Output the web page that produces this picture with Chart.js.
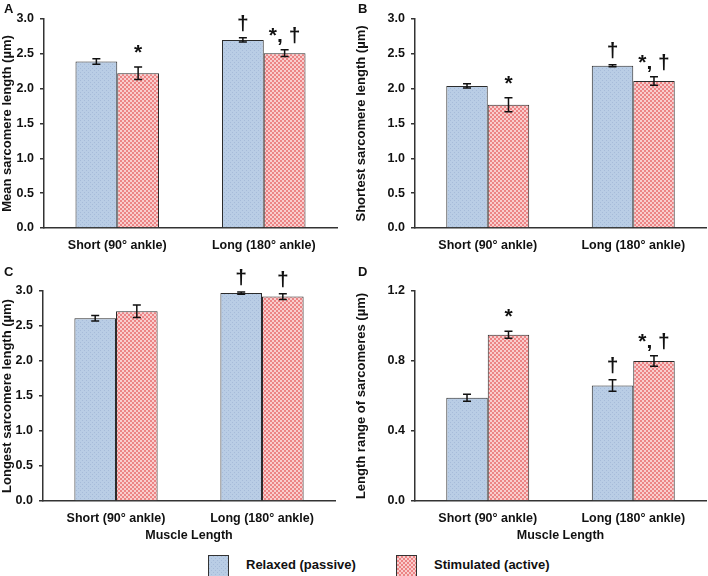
<!DOCTYPE html>
<html>
<head>
<meta charset="utf-8">
<script src="https://cdn.jsdelivr.net/npm/chart.js@4.4.1/dist/chart.umd.min.js"></script>
<style>
  body { margin: 0; background: #fff; }
  #wrap { position: relative; width: 708px; height: 576px; font-family: "Liberation Sans", Arial, sans-serif; }
  .panel { position: absolute; }
  .letter { position: absolute; font-weight: bold; font-size: 13px; color: #111; }
  .leg { position: absolute; font-weight: bold; font-size: 13px; color: #111; line-height: 19px; }
  .sw { position: absolute; border: 1px solid #333; box-sizing: border-box; }
</style>
</head>
<body>
<div id="wrap">
  <canvas id="chA" class="panel" style="left:0;top:0"></canvas>
  <canvas id="chB" class="panel" style="left:354px;top:0"></canvas>
  <canvas id="chC" class="panel" style="left:0;top:262px"></canvas>
  <canvas id="chD" class="panel" style="left:354px;top:262px"></canvas>
  <div class="letter" style="left:4px;top:1px">A</div>
  <div class="letter" style="left:358px;top:1px">B</div>
  <div class="letter" style="left:4px;top:264px">C</div>
  <div class="letter" style="left:358px;top:264px">D</div>
  <canvas id="swRelaxed" class="sw" width="19" height="20" style="left:208px;top:555px"></canvas>
  <div class="leg" style="left:246px;top:555px">Relaxed (passive)</div>
  <canvas id="swActive" class="sw" width="19" height="20" style="left:396px;top:555px"></canvas>
  <div class="leg" style="left:434px;top:555px">Stimulated (active)</div>
</div>
<script>
const categories = ['Short (90° ankle)', 'Long (180° ankle)'];

// A - mean sarcomere length
const meanRelaxed = [2.39, 2.70];
const meanRelaxedErr = [0.04, 0.03];
const meanActive = [2.22, 2.51];
const meanActiveErr = [0.09, 0.05];
const meanMarksRelaxed = ['', '†'];
const meanMarksActive = ['*', '*, †'];

// B - shortest sarcomere length
const shortRelaxed = [2.04, 2.33];
const shortRelaxedErr = [0.03, 0.015];
const shortActive = [1.77, 2.11];
const shortActiveErr = [0.10, 0.06];
const shortMarksRelaxed = ['', '†'];
const shortMarksActive = ['*', '*, †'];

// C - longest sarcomere length
const longRelaxed = [2.61, 2.97];
const longRelaxedErr = [0.04, 0.015];
const longActive = [2.71, 2.92];
const longActiveErr = [0.09, 0.04];
const longMarksRelaxed = ['', '†'];
const longMarksActive = ['', '†'];

// D - length range
const rangeRelaxed = [0.59, 0.66];
const rangeRelaxedErr = [0.02, 0.033];
const rangeActive = [0.95, 0.80];
const rangeActiveErr = [0.02, 0.03];
const rangeMarksRelaxed = ['', '†'];
const rangeMarksActive = ['*', '*, †'];

const ticks30 = [0, 0.5, 1.0, 1.5, 2.0, 2.5, 3.0];
const ticks12 = [0, 0.4, 0.8, 1.2];

const FONT = '"Liberation Sans", Arial, sans-serif';

function dotPattern(ctx) {
  const c = document.createElement('canvas');
  c.width = 4; c.height = 4;
  const g = c.getContext('2d');
  g.fillStyle = '#b9cde5';
  g.fillRect(0, 0, 4, 4);
  g.fillStyle = '#a6bbd9';
  g.fillRect(0, 0, 1, 1);
  g.fillRect(2, 2, 1, 1);
  return ctx.createPattern(c, 'repeat');
}

function checkPattern(ctx) {
  const c = document.createElement('canvas');
  c.width = 4; c.height = 4;
  const g = c.getContext('2d');
  g.fillStyle = '#f9cdcd';
  g.fillRect(0, 0, 4, 4);
  g.fillStyle = '#ec8485';
  g.fillRect(0, 0, 2, 2);
  g.fillRect(2, 2, 2, 2);
  return ctx.createPattern(c, 'repeat');
}

const errorBars = {
  id: 'errorBars',
  afterDatasetsDraw(chart) {
    const ctx = chart.ctx;
    const y = chart.scales.y;
    ctx.save();
    chart.data.datasets.forEach((ds, i) => {
      const meta = chart.getDatasetMeta(i);
      meta.data.forEach((bar, j) => {
        const v = ds.data[j], e = ds.err[j];
        const top = y.getPixelForValue(v + e);
        const bot = y.getPixelForValue(v - e);
        ctx.strokeStyle = '#111';
        ctx.lineWidth = 1.5;
        ctx.beginPath();
        ctx.moveTo(bar.x, top); ctx.lineTo(bar.x, bot);
        ctx.moveTo(bar.x - 4, top); ctx.lineTo(bar.x + 4, top);
        ctx.moveTo(bar.x - 4, bot); ctx.lineTo(bar.x + 4, bot);
        ctx.stroke();
        const m = ds.marks[j];
        if (m) {
          ctx.fillStyle = '#111';
          ctx.font = 'bold 21px ' + FONT;
          ctx.textAlign = 'center';
          ctx.textBaseline = 'alphabetic';
          ctx.fillText(m, bar.x, top - 8);
        }
      });
    });
    ctx.restore();
  }
};

function makeChart(id, w, h, relaxed, relaxedErr, relaxedMarks, active, activeErr, activeMarks,
                   yMax, yTicks, yTitle, xTitle, yWidth, padTop, padRight, xHeight) {
  const el = document.getElementById(id);
  el.width = w; el.height = h;
  el.style.width = w + 'px'; el.style.height = h + 'px';
  const ctx = el.getContext('2d');
  return new Chart(el, {
    type: 'bar',
    data: {
      labels: categories,
      datasets: [
        { label: 'Relaxed (passive)', data: relaxed, err: relaxedErr, marks: relaxedMarks,
          backgroundColor: dotPattern(ctx), borderColor: '#2b2b2b', borderWidth: 1 },
        { label: 'Stimulated (active)', data: active, err: activeErr, marks: activeMarks,
          backgroundColor: checkPattern(ctx), borderColor: '#2b2b2b', borderWidth: 1 }
      ]
    },
    options: {
      responsive: false,
      animation: false,
      devicePixelRatio: 1,
      categoryPercentage: 0.57,
      barPercentage: 1.0,
      layout: { padding: { top: padTop, right: padRight, left: 0, bottom: 0 } },
      plugins: { legend: { display: false }, tooltip: { enabled: false } },
      scales: {
        x: {
          grid: { display: false },
          border: { display: true, color: '#333', width: 1.5 },
          ticks: { color: '#111', font: { family: FONT, size: 12.5, weight: 'bold' }, padding: 2, maxRotation: 0 },
          title: xTitle ? { display: true, text: xTitle, color: '#111', font: { family: FONT, size: 12.5, weight: 'bold' }, padding: { top: 0, bottom: 3 } } : { display: false },
          afterFit: (s) => { s.height = xHeight; }
        },
        y: {
          min: 0, max: yMax,
          afterBuildTicks: (s) => { s.ticks = yTicks.map(v => ({ value: v })); },
          grid: { display: true, drawOnChartArea: false, drawTicks: true, tickLength: 4, color: '#333', lineWidth: 1.5 },
          border: { display: true, color: '#333', width: 1.5 },
          ticks: { color: '#111', font: { family: FONT, size: 12.5, weight: 'bold' }, padding: 6,
                   callback: (v) => Number(v).toFixed(1) },
          title: { display: true, text: yTitle, color: '#111', font: { family: FONT, size: 13, weight: 'bold' }, padding: { top: 0, bottom: 0 } },
          afterFit: (s) => { s.width = yWidth; }
        }
      }
    },
    plugins: [errorBars]
  });
}

makeChart('chA', 354, 262, meanRelaxed, meanRelaxedErr, meanMarksRelaxed, meanActive, meanActiveErr, meanMarksActive,
  3.0, ticks30, 'Mean sarcomere length (µm)', null, 44, 19, 17, 34);
makeChart('chB', 354, 262, shortRelaxed, shortRelaxedErr, shortMarksRelaxed, shortActive, shortActiveErr, shortMarksActive,
  3.0, ticks30, 'Shortest sarcomere length (µm)', null, 61, 19, 2, 34);
makeChart('chC', 354, 284, longRelaxed, longRelaxedErr, longMarksRelaxed, longActive, longActiveErr, longMarksActive,
  3.0, ticks30, 'Longest sarcomere length (µm)', 'Muscle Length', 43, 29, 19, 45);
makeChart('chD', 354, 284, rangeRelaxed, rangeRelaxedErr, rangeMarksRelaxed, rangeActive, rangeActiveErr, rangeMarksActive,
  1.2, ticks12, 'Length range of sarcomeres (µm)', 'Muscle Length', 61, 29, 2, 45);

// legend swatches use the same fills as the bars
const sr = document.getElementById('swRelaxed').getContext('2d');
sr.fillStyle = dotPattern(sr); sr.fillRect(0, 0, 19, 20);
const sa = document.getElementById('swActive').getContext('2d');
sa.fillStyle = checkPattern(sa); sa.fillRect(0, 0, 19, 20);
</script>
</body>
</html>
